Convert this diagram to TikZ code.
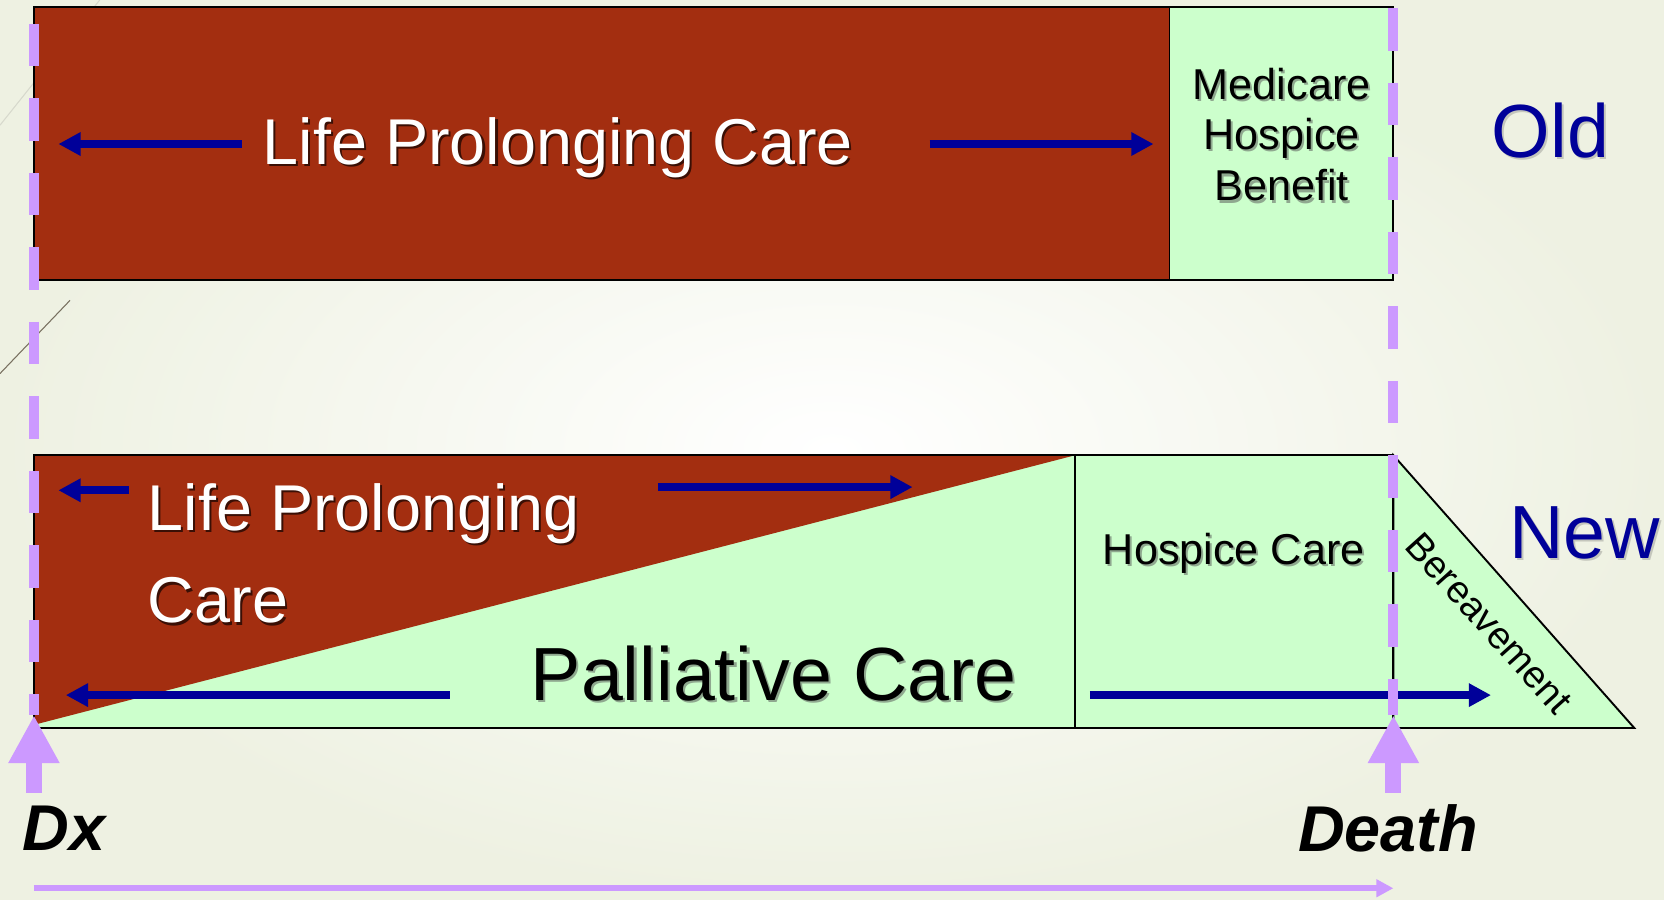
\documentclass[tikz,border=0pt]{standalone}
\usepackage{fontspec}
\setmainfont{Liberation Sans}
\usetikzlibrary{arrows.meta}
\definecolor{lpred}{HTML}{A32E10}
\definecolor{palgreen}{HTML}{CCFFCC}
\definecolor{navy}{HTML}{000099}
\definecolor{lilac}{HTML}{CC99FF}
\definecolor{shdred}{HTML}{3A0F05}
\definecolor{shdgreen}{HTML}{8FA88F}
\definecolor{shdbg}{HTML}{C4C6BC}
\definecolor{bgouter}{HTML}{EEF1E2}
\newcommand{\shd}[2]{\leavevmode\rlap{\kern2pt\raisebox{-2pt}{\textcolor{#1}{#2}}}#2}
\begin{document}
\begin{tikzpicture}[x=1pt,y=-1pt,
  box/.style={draw=black,line width=1.8pt},
  barrow/.style={draw=navy,line width=7.5pt,-{Triangle[length=21pt,width=21pt]}},
  timedash/.style={draw=lilac,line width=9.5pt,dash pattern=on 39.6pt off 30.6pt},
  uparrow/.style={draw=lilac,line width=15pt,-{Triangle[length=45pt,width=45pt]}},
  timeline/.style={draw=lilac,line width=5.5pt,-{Triangle[length=16pt,width=16pt]}},
  bigwhite/.style={text=white,inner sep=0pt,font=\fontsize{61}{73}\selectfont},
  medtxt/.style={text=black,inner sep=0pt,font=\fontsize{40.7}{48}\selectfont},
  eratxt/.style={text=navy,inner sep=0pt,font=\fontsize{71}{80}\selectfont},
  marktxt/.style={text=black,inner sep=0pt,font=\fontsize{61}{70}\selectfont\bfseries\itshape}
]
\useasboundingbox (0,0) rectangle (1568,848);
\shade[inner color=white,outer color=bgouter] (0,0) rectangle (1568,848);
% theme decoration lines
\draw[draw={rgb,255:red,215;green,217;blue,205},line width=1pt] (0,118) -- (94,0);
\draw[draw={rgb,255:red,120;green,112;blue,96},line width=1pt] (0,352) -- (66,283);

% ---------- Old ----------
\fill[lpred] (32,7) rectangle (1102,264);
\fill[palgreen] (1102,7) rectangle (1313,264);
\draw[box] (32,7) rectangle (1313,264);
\draw[box] (1102,7) -- (1102,264);

\node[bigwhite,anchor=base west] (lpcold) at (247.5,155) {\shd{shdred}{Life Prolonging Care}};
\node[medtxt,anchor=base] (med1) at (1207.7,93.3) {\shd{shdgreen}{Medicare}};
\node[medtxt,anchor=base] (med2) at (1207.7,140.8) {\shd{shdgreen}{Hospice}};
\node[medtxt,anchor=base] (med3) at (1207.7,189.4) {\shd{shdgreen}{Benefit}};
\node[eratxt,anchor=base] (old) at (1461,148) {\shd{shdbg}{Old}};

\coordinate (o1s) at (228,135.7);
\coordinate (o1e) at (55,135.7);
\coordinate (o2s) at (876,135.7);
\coordinate (o2e) at (1087,135.7);
\draw[barrow] (o1s) -- (o1e);
\draw[barrow] (o2s) -- (o2e);

% ---------- New ----------
\fill[palgreen] (32,429) rectangle (1013,686);
\fill[lpred] (32,429) -- (1013,429) -- (32,683) -- cycle;
\draw[box] (32,429) rectangle (1013,686);
\draw[box,fill=palgreen] (1013,429) rectangle (1313,686);
\draw[box,fill=palgreen] (1313,429) -- (1540,686) -- (1313,686) -- cycle;

\node[bigwhite,anchor=base west] (lpcnew1) at (139,500) {\shd{shdred}{Life Prolonging}};
\node[bigwhite,anchor=base west] (lpcnew2) at (139,587) {\shd{shdred}{Care}};
\node[text=black,inner sep=0pt,font=\fontsize{71}{80}\selectfont,anchor=base] (pall) at (729,660) {\shd{shdgreen}{Palliative Care}};
\node[medtxt,anchor=base] (hosp) at (1162.5,532) {\shd{shdgreen}{Hospice Care}};
\node[text=black,inner sep=0pt,font=\fontsize{36}{42}\selectfont,rotate=-48] (ber) at (1403,587) {Bereavement};
\node[eratxt,anchor=base] (new) at (1493,526) {\shd{shdbg}{New}};

\coordinate (n1s) at (122,462);
\coordinate (n1e) at (55,462);
\coordinate (n2s) at (620,459);
\coordinate (n2e) at (860,459);
\coordinate (n3s) at (424,655);
\coordinate (n3e) at (62,655);
\coordinate (n4s) at (1027,655);
\coordinate (n4e) at (1405,655);
\draw[barrow] (n1s) -- (n1e);
\draw[barrow] (n2s) -- (n2e);
\draw[barrow] (n3s) -- (n3e);
\draw[barrow] (n4s) -- (n4e);

% ---------- time markers ----------
\coordinate (dxtop) at (32,22.6);
\coordinate (dxtip) at (32,674);
\coordinate (dxbase) at (32,747);
\coordinate (dttop) at (1313,8);
\coordinate (dttip) at (1313,674);
\coordinate (dtbase) at (1313,747);
\draw[timedash] (dxtop) -- (dxtip);
\draw[timedash] (dttop) -- (dttip);
\draw[uparrow] (dxbase) -- (dxtip);
\draw[uparrow] (dtbase) -- (dttip);

\node[marktxt,anchor=base] (dx) at (60,801) {Dx};
\node[marktxt,anchor=base] (death) at (1308,802) {Death};

\coordinate (tls) at (32,837);
\coordinate (tle) at (1313,837);
\draw[timeline] (tls) -- (tle);
\end{tikzpicture}
\end{document}
